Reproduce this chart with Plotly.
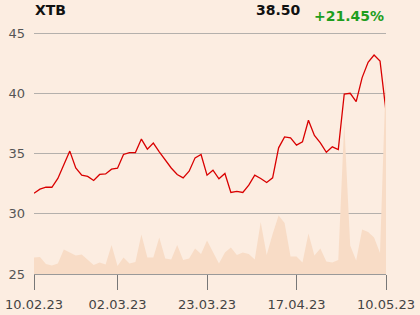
import plotly.graph_objects as go

dates = [
    "2023-02-10", "2023-02-13", "2023-02-14", "2023-02-15", "2023-02-16", "2023-02-17",
    "2023-02-20", "2023-02-21", "2023-02-22", "2023-02-23", "2023-02-24", "2023-02-27",
    "2023-02-28", "2023-03-01", "2023-03-02", "2023-03-03", "2023-03-06", "2023-03-07",
    "2023-03-08", "2023-03-09", "2023-03-10", "2023-03-13", "2023-03-14", "2023-03-15",
    "2023-03-16", "2023-03-17", "2023-03-20", "2023-03-21", "2023-03-22", "2023-03-23",
    "2023-03-24", "2023-03-27", "2023-03-28", "2023-03-29", "2023-03-30", "2023-03-31",
    "2023-04-03", "2023-04-04", "2023-04-05", "2023-04-06", "2023-04-11", "2023-04-12",
    "2023-04-13", "2023-04-14", "2023-04-17", "2023-04-18", "2023-04-19", "2023-04-20",
    "2023-04-21", "2023-04-24", "2023-04-25", "2023-04-26", "2023-04-27", "2023-04-28",
    "2023-05-02", "2023-05-04", "2023-05-05", "2023-05-08", "2023-05-09", "2023-05-10",
]

prices = [
    31.70, 32.04, 32.20, 32.20, 32.93, 34.09, 35.20, 33.80, 33.20, 33.10,
    32.76, 33.26, 33.30, 33.70, 33.78, 34.92, 35.08, 35.08, 36.20, 35.36,
    35.86, 35.14, 34.48, 33.80, 33.26, 32.98, 33.53, 34.64, 34.92, 33.20,
    33.62, 32.90, 33.34, 31.77, 31.85, 31.77, 32.37, 33.20, 32.93, 32.60,
    32.98, 35.47, 36.38, 36.30, 35.69, 35.97, 37.76, 36.50, 35.88, 35.10,
    35.55, 35.33, 39.94, 40.00, 39.30, 41.30, 42.57, 43.17, 42.68, 38.50,
]

volumes = [
    33, 34, 20, 17, 21, 49, 43, 37, 39, 28,
    18, 23, 19, 58, 16, 33, 21, 24, 79, 33,
    33, 73, 31, 29, 58, 28, 31, 51, 40, 67,
    43, 21, 43, 53, 38, 43, 40, 29, 104, 38,
    80, 117, 102, 35, 35, 23, 81, 37, 51, 25,
    23, 28, 302, 57, 27, 89, 84, 73, 42, 408,
]

tick_dates = ["2023-02-10", "2023-03-02", "2023-03-23", "2023-04-17", "2023-05-10"]
tick_labels = ["10.02.23", "02.03.23", "23.03.23", "17.04.23", "10.05.23"]
y_ticks = [25, 30, 35, 40, 45]

ticker = "XTB"
last_price = "38.50"
change = "+21.45%"

bg = "#FCEDE1"
font_family = "DejaVu Sans"

W, H = 420, 315
ML, MR, MT, MB = 34, 34, 20, 41

fig = go.Figure()
fig.add_trace(go.Scatter(
    x=dates, y=volumes, yaxis="y2", mode="lines",
    line=dict(width=0, color="rgba(0,0,0,0)"),
    fill="tozeroy", fillcolor="#F8DCC6", hoverinfo="skip", showlegend=False,
))
fig.add_trace(go.Scatter(
    x=dates, y=prices, mode="lines",
    line=dict(color="#D90000", width=1.3), showlegend=False,
))

fig.update_layout(
    width=W, height=H,
    margin=dict(l=ML, r=MR, t=MT, b=MB, autoexpand=False),
    paper_bgcolor=bg, plot_bgcolor=bg,
    font=dict(family=font_family, size=13, color="#444444"),
    xaxis=dict(
        type="category", range=[0, len(dates) - 1], automargin=False,
        tickmode="array", tickvals=tick_dates, ticktext=tick_labels,
        showgrid=False, zeroline=False,
        showline=True, linecolor="#999999", linewidth=1,
        ticks="outside", ticklen=15, tickcolor="#777777", tickwidth=1,
        ticklabelstandoff=3,
        tickfont=dict(size=13, color="#444444"),
    ),
    yaxis=dict(
        range=[25, 46.08], tickvals=y_ticks, automargin=False,
        showgrid=True, gridcolor="#B4B0AC", gridwidth=1,
        zeroline=False, showline=False, ticks="",
        ticklabelstandoff=8,
        tickfont=dict(size=13, color="#555555"),
    ),
    yaxis2=dict(
        overlaying="y", range=[0, 508], visible=False,
    ),
)

pw, ph = W - ML - MR, H - MT - MB


def px(xp):
    return (xp - ML) / pw


def py(yp):
    return (H - MB - yp) / ph


fig.add_annotation(text="<b>" + ticker + "</b>", x=px(33), y=py(10), xref="paper", yref="paper",
                   xanchor="left", yanchor="middle", showarrow=False,
                   font=dict(family=font_family, size=14, color="#111111"))
fig.add_annotation(text="<b>" + last_price + "</b>", x=px(303), y=py(10), xref="paper", yref="paper",
                   xanchor="right", yanchor="middle", showarrow=False,
                   font=dict(family=font_family, size=14, color="#111111"))
fig.add_annotation(text="<b>" + change + "</b>", x=px(386), y=py(16), xref="paper", yref="paper",
                   xanchor="right", yanchor="middle", showarrow=False,
                   font=dict(family=font_family, size=14, color="#1E9E1E"))

fig.write_html("out.html")
